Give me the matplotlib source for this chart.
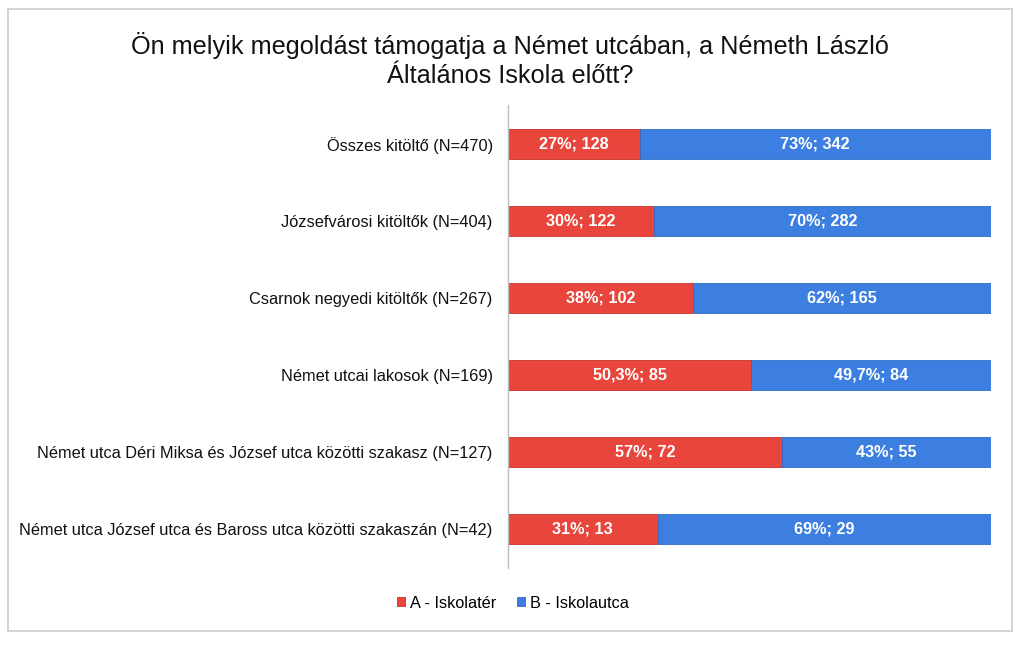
"""Stacked 100% bar chart: Német utca survey results."""

import matplotlib

matplotlib.use("Agg")
import matplotlib.pyplot as plt
from matplotlib.patches import Rectangle

plt.rcParams["font.family"] = ["Liberation Sans", "DejaVu Sans"]

categories = [
    "Összes kitöltő (N=470)",
    "Józsefvárosi kitöltők (N=404)",
    "Csarnok negyedi kitöltők (N=267)",
    "Német utcai lakosok (N=169)",
    "Német utca Déri Miksa és József utca közötti szakasz (N=127)",
    "Német utca József utca és Baross utca közötti szakaszán (N=42)",
]
count_a = [128, 122, 102, 85, 72, 13]
count_b = [342, 282, 165, 84, 55, 29]
pct_a = ["27%", "30%", "38%", "50,3%", "57%", "31%"]
pct_b = ["73%", "70%", "62%", "49,7%", "43%", "69%"]
series_names = ["A - Iskolatér", "B - Iskolautca"]

RED = "#E8453C"
BLUE = "#3D7FE0"

fig = plt.figure(figsize=(10.24, 6.45), dpi=100)
ax = fig.add_axes([508 / 1024, 1 - 568 / 645, 483 / 1024, 463 / 645])

y = list(range(len(categories)))
share_a = [a / (a + b) for a, b in zip(count_a, count_b)]
share_b = [b / (a + b) for a, b in zip(count_a, count_b)]

ax.barh(y, share_a, height=0.39, color=RED, edgecolor="#C9302A", linewidth=0.6,
        label=series_names[0])
ax.barh(y, share_b, left=share_a, height=0.39, color=BLUE, edgecolor="#2F6BC4",
        linewidth=0.6, label=series_names[1])

for i in y:
    ax.text(share_a[i] / 2, i, f"{pct_a[i]}; {count_a[i]}", ha="center", va="center",
            color="white", fontsize=11.7, fontweight="bold")
    ax.text(share_a[i] + share_b[i] / 2, i, f"{pct_b[i]}; {count_b[i]}", ha="center",
            va="center", color="white", fontsize=11.7, fontweight="bold")

ax.set_xlim(0, 1)
ax.set_ylim(len(categories) - 0.5, -0.5)
ax.set_yticks(y)
ax.set_yticklabels(categories, fontsize=11.8, color="#111111")
ax.tick_params(axis="y", length=0, pad=11)
ax.set_xticks([])
for side in ("top", "right", "bottom"):
    ax.spines[side].set_visible(False)
ax.spines["left"].set_color("#BBBBBB")
ax.spines["left"].set_linewidth(1.0)

fig.text(510 / 1024, 1 - 60 / 645,
         "Ön melyik megoldást támogatja a Német utcában, a Németh László\n"
         "Általános Iskola előtt?",
         ha="center", va="center", fontsize=18.2, color="#111111", linespacing=1.3)

fig.legend(loc="center", bbox_to_anchor=(513 / 1024, 1 - 603 / 645), ncol=2, frameon=False,
           fontsize=11.7, handlelength=0.5, handleheight=0.5, handletextpad=0.3,
           columnspacing=1.3)

fig.patches.append(Rectangle((8 / 1024, 1 - 631 / 645), 1004 / 1024, 622 / 645,
                             transform=fig.transFigure, fill=False, edgecolor="#CCCCCC",
                             linewidth=1.2))

fig.savefig("out.png", dpi=100)
plt.close(fig)
